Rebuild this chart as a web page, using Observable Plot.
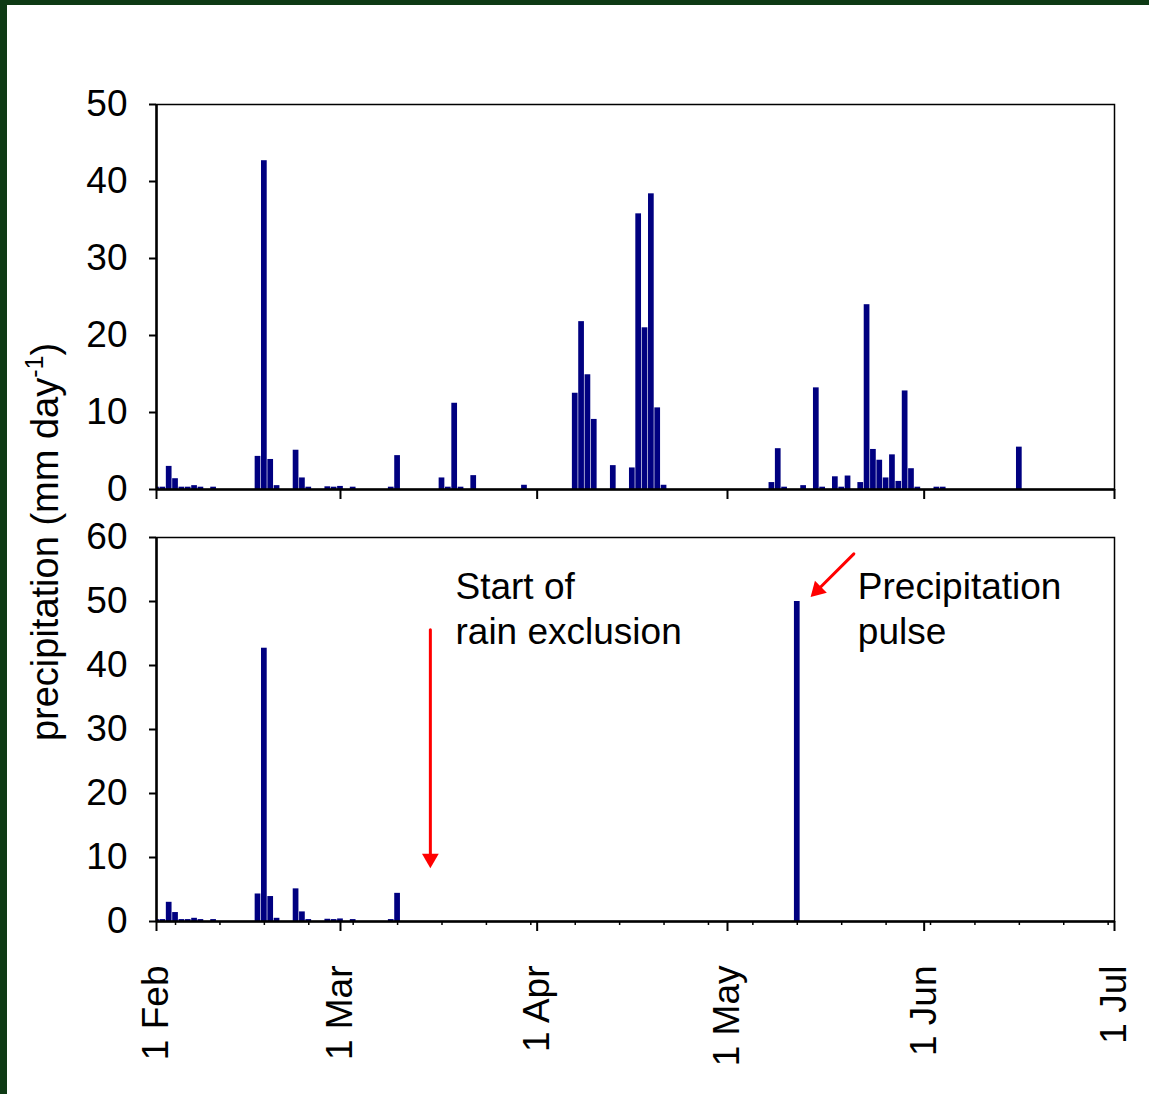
<!DOCTYPE html>
<html>
<head>
<meta charset="utf-8">
<script src="https://cdn.jsdelivr.net/npm/d3@7"></script>
<script src="https://cdn.jsdelivr.net/npm/@observablehq/plot@0.6"></script>
<style>
html, body { margin: 0; padding: 0; background: #0e3a14; }
#wrap { position: relative; width: 1149px; height: 1094px; background: #0e3a14; overflow: hidden;
  font-family: "Liberation Sans", Arial, sans-serif; }
#inner { position: absolute; left: 7px; top: 5px; right: 0; bottom: 0; background: #fff; }
.panel { position: absolute; left: 0; }
#ylab { position: absolute; left: -205px; top: 523px; width: 500px; height: 38px; line-height: 38px;
  font-size: 38px; text-align: center; color: #000; transform: rotate(-90deg); white-space: nowrap; }
#ylab sup { font-size: 25px; line-height: 0; vertical-align: 15px; }
</style>
</head>
<body>
<div id="wrap">
  <div id="inner"></div>
  <div id="top" class="panel" style="top:0px"></div>
  <div id="bot" class="panel" style="top:500px"></div>
  <div id="ylab">precipitation (mm day<sup>-1</sup>)</div>
</div>
<script>
// ---------- data (daily precipitation, 2008) ----------
const topDates = ["2008-02-01","2008-02-02","2008-02-03","2008-02-04","2008-02-05","2008-02-06","2008-02-07","2008-02-08","2008-02-10",
  "2008-02-17","2008-02-18","2008-02-19","2008-02-20","2008-02-23","2008-02-24","2008-02-25","2008-02-28","2008-02-29","2008-03-01",
  "2008-03-03","2008-03-09","2008-03-10","2008-03-17","2008-03-18","2008-03-19","2008-03-20","2008-03-22","2008-03-30",
  "2008-04-07","2008-04-08","2008-04-09","2008-04-10","2008-04-13","2008-04-16","2008-04-17","2008-04-18","2008-04-19","2008-04-20","2008-04-21",
  "2008-05-08","2008-05-09","2008-05-10","2008-05-13","2008-05-15","2008-05-16","2008-05-18","2008-05-19","2008-05-20",
  "2008-05-22","2008-05-23","2008-05-24","2008-05-25","2008-05-26","2008-05-27","2008-05-28","2008-05-29","2008-05-30","2008-05-31",
  "2008-06-03","2008-06-04","2008-06-16"];
const topValues = [0.3,0.3,3.0,1.4,0.3,0.3,0.5,0.3,0.3,
  4.3,42.7,3.9,0.5,5.1,1.5,0.3,0.35,0.3,0.4,
  0.3,0.3,4.4,1.5,0.3,11.2,0.3,1.8,0.55,
  12.5,21.8,14.9,9.1,3.1,2.8,35.8,21.0,38.4,10.6,0.55,
  0.9,5.3,0.3,0.5,13.2,0.3,1.65,0.3,1.75,
  0.9,24.0,5.2,3.8,1.5,4.5,1.05,12.8,2.7,0.3,
  0.3,0.3,5.5];

const bottomDates = ["2008-02-01","2008-02-02","2008-02-03","2008-02-04","2008-02-05","2008-02-06","2008-02-07","2008-02-08","2008-02-10",
  "2008-02-17","2008-02-18","2008-02-19","2008-02-20","2008-02-23","2008-02-24","2008-02-25","2008-02-28","2008-02-29","2008-03-01",
  "2008-03-03","2008-03-09","2008-03-10","2008-05-12"];
const bottomValues = [0.3,0.3,3.0,1.4,0.3,0.3,0.5,0.3,0.3,
  4.3,42.7,3.9,0.5,5.1,1.5,0.3,0.35,0.3,0.4,
  0.3,0.3,4.4,50];

const topYTicks = [0, 10, 20, 30, 40, 50];
const bottomYTicks = [0, 10, 20, 30, 40, 50, 60];

// annotations (bottom panel)
const noteX = ["2008-03-19T03:00Z", "2008-05-21T13:00Z"];
const noteY = [55.3, 55.3];
const noteText = ["Start of\nrain exclusion", "Precipitation\npulse"];
const arrowX1 = ["2008-03-15T04:00Z", "2008-05-20T22:00Z"];
const arrowY1 = [45.6, 57.45];
const arrowX2 = ["2008-03-15T04:00Z", "2008-05-13T19:00Z"];
const arrowY2 = [7.9, 50.4];

// ---------- helpers ----------
const start = new Date("2008-02-01T00:00Z");
const end = new Date("2008-07-01T00:00Z");
const months = d3.utcMonth.range(start, d3.utcDay.offset(end, 1));
const mondays = d3.utcMonday.range(start, end);
const half = 0.45 * 864e5;
const toRows = (dates, values) => dates.map((d, i) => ({date: new Date(d + "T00:00Z"), value: values[i]}));
const topData = toRows(topDates, topValues);
const bottomData = toRows(bottomDates, bottomValues);
const arrows = arrowX1.map((d, i) => ({x1: new Date(d), y1: arrowY1[i], x2: new Date(arrowX2[i]), y2: arrowY2[i]}));
const notes = noteX.map((d, i) => ({x: new Date(d), y: noteY[i], text: noteText[i]}));

const font = '"Liberation Sans", Arial, sans-serif';
const navy = "#000080";
const fs = 37;

function barMark(data) {
  return Plot.rect(data, {
    x1: d => new Date(+d.date - half), x2: d => new Date(+d.date + half),
    y1: 0, y2: "value", fill: navy, clip: true
  });
}

const topChart = Plot.plot({
  width: 1149, height: 500,
  marginLeft: 156, marginRight: 35, marginTop: 104, marginBottom: 11,
  style: {fontFamily: font, fontSize: fs + "px", color: "#000", background: "transparent", overflow: "visible"},
  x: {type: "utc", domain: [start, end]},
  y: {domain: [0, 50]},
  marks: [
    barMark(topData),
    Plot.frame({stroke: "#000", strokeWidth: 1.5}),
    Plot.ruleY([0], {stroke: "#000", strokeWidth: 2.5}),
    Plot.ruleX([start], {stroke: "#000", strokeWidth: 2.5}),
    Plot.axisY({ticks: topYTicks, tickSize: 7, tickPadding: 22, fontSize: fs, strokeWidth: 2, label: null}),
    Plot.axisX({ticks: months, tickSize: 10, tickFormat: () => "", strokeWidth: 2, label: null})
  ]
});

const bottomChart = Plot.plot({
  width: 1149, height: 594,
  marginLeft: 156, marginRight: 35, marginTop: 37, marginBottom: 173,
  style: {fontFamily: font, fontSize: fs + "px", color: "#000", background: "transparent", overflow: "visible"},
  x: {type: "utc", domain: [start, end]},
  y: {domain: [0, 60]},
  marks: [
    barMark(bottomData),
    Plot.frame({stroke: "#000", strokeWidth: 1.5}),
    Plot.ruleY([0], {stroke: "#000", strokeWidth: 2.5}),
    Plot.ruleX([start], {stroke: "#000", strokeWidth: 2.5}),
    Plot.axisY({ticks: bottomYTicks, tickSize: 7, tickPadding: 22, fontSize: fs, strokeWidth: 2, label: null}),
    Plot.axisX({ticks: mondays, tickSize: 4, tickFormat: () => "", strokeWidth: 1.5, label: null}),
    Plot.axisX({ticks: months, tickSize: 10, tickPadding: 34, tickRotate: -90, fontSize: fs,
      tickFormat: d3.utcFormat("1 %b"), strokeWidth: 2, label: null}),
    Plot.arrow(arrows, {x1: "x1", y1: "y1", x2: "x2", y2: "y2", stroke: "#ff0000", strokeWidth: 3,
      headLength: 0, insetEnd: 12}),
    Plot.dot(arrows.slice(0, 1), {x: "x2", y: "y2", symbol: "triangle2", rotate: 180, r: 8,
      fill: "#ff0000", stroke: "none", dy: -12.4}),
    Plot.dot(arrows.slice(1, 2), {x: "x2", y: "y2", symbol: "triangle2", rotate: 225, r: 8,
      fill: "#ff0000", stroke: "none", dx: 8.8, dy: -8.8}),
    Plot.text(notes, {x: "x", y: "y", text: "text", textAnchor: "start", lineAnchor: "top",
      fontSize: fs, lineHeight: 1.2, fill: "#000"})
  ]
});

document.getElementById("top").appendChild(topChart);
document.getElementById("bot").appendChild(bottomChart);
</script>
</body>
</html>
